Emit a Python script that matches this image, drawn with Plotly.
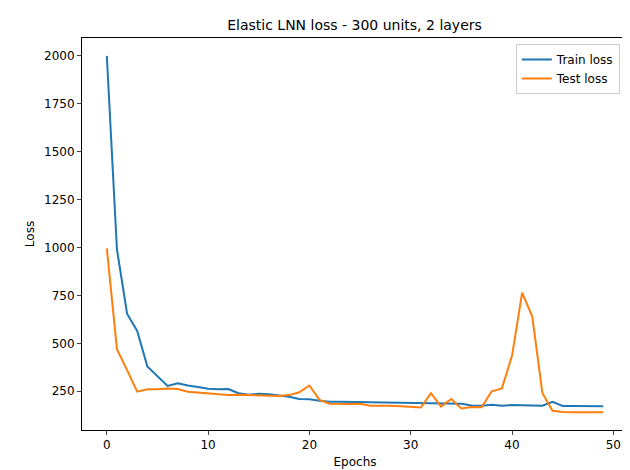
import plotly.graph_objects as go

epochs = list(range(50))
train_loss = [2000, 990, 655, 565, 380, 330, 278, 292, 280, 272, 263, 260, 262, 240, 232, 237, 235, 228, 222, 210,
              208, 200, 195, 195, 194, 194, 192, 191, 192, 190, 187, 187, 187, 186, 186, 185, 176, 175, 180, 175,
              178, 177, 177, 175, 195, 173, 173, 172, 172, 172]
test_loss = [995, 470, 360, 248, 260, 260, 265, 262, 248, 243, 238, 232, 230, 232, 230, 230, 228, 226, 230, 245,
             280, 205, 185, 183, 184, 185, 175, 174, 175, 172, 168, 165, 240, 170, 210, 160, 168, 167, 250, 265,
             435, 765, 640, 240, 148, 142, 141, 141, 141, 141]

fig = go.Figure()
fig.add_trace(go.Scatter(x=epochs, y=train_loss, mode="lines", name="Train loss",
                         line=dict(color="#1f77b4", width=2)))
fig.add_trace(go.Scatter(x=epochs, y=test_loss, mode="lines", name="Test loss",
                         line=dict(color="#ff7f0e", width=2)))

axis = dict(showline=True, linecolor="black", mirror=True, ticks="outside", ticklen=4,
            showgrid=False, zeroline=False, automargin=False,
            tickfont=dict(size=12, color="black"))
fig.update_layout(
    width=630, height=470,
    paper_bgcolor="white", plot_bgcolor="white",
    font=dict(family="DejaVu Sans", color="black"),
    margin=dict(l=74, r=10, t=30, b=48),
    title=dict(text="Elastic LNN loss - 300 units, 2 layers", x=0.55, xanchor="center",
               y=0.975, font=dict(size=14)),
    legend=dict(x=0.985, y=0.985, xanchor="right", yanchor="top", bordercolor="#cccccc",
                borderwidth=1, font=dict(size=12)),
    xaxis=dict(axis, range=[-2.45, 51.45], tickvals=[0, 10, 20, 30, 40, 50],
               title=dict(text="Epochs", font=dict(size=12), standoff=6)),
    yaxis=dict(axis, range=[48, 2093], tickvals=[250, 500, 750, 1000, 1250, 1500, 1750, 2000],
               title=dict(text="Loss", font=dict(size=12), standoff=6)),
)
fig.write_html("out.html")
